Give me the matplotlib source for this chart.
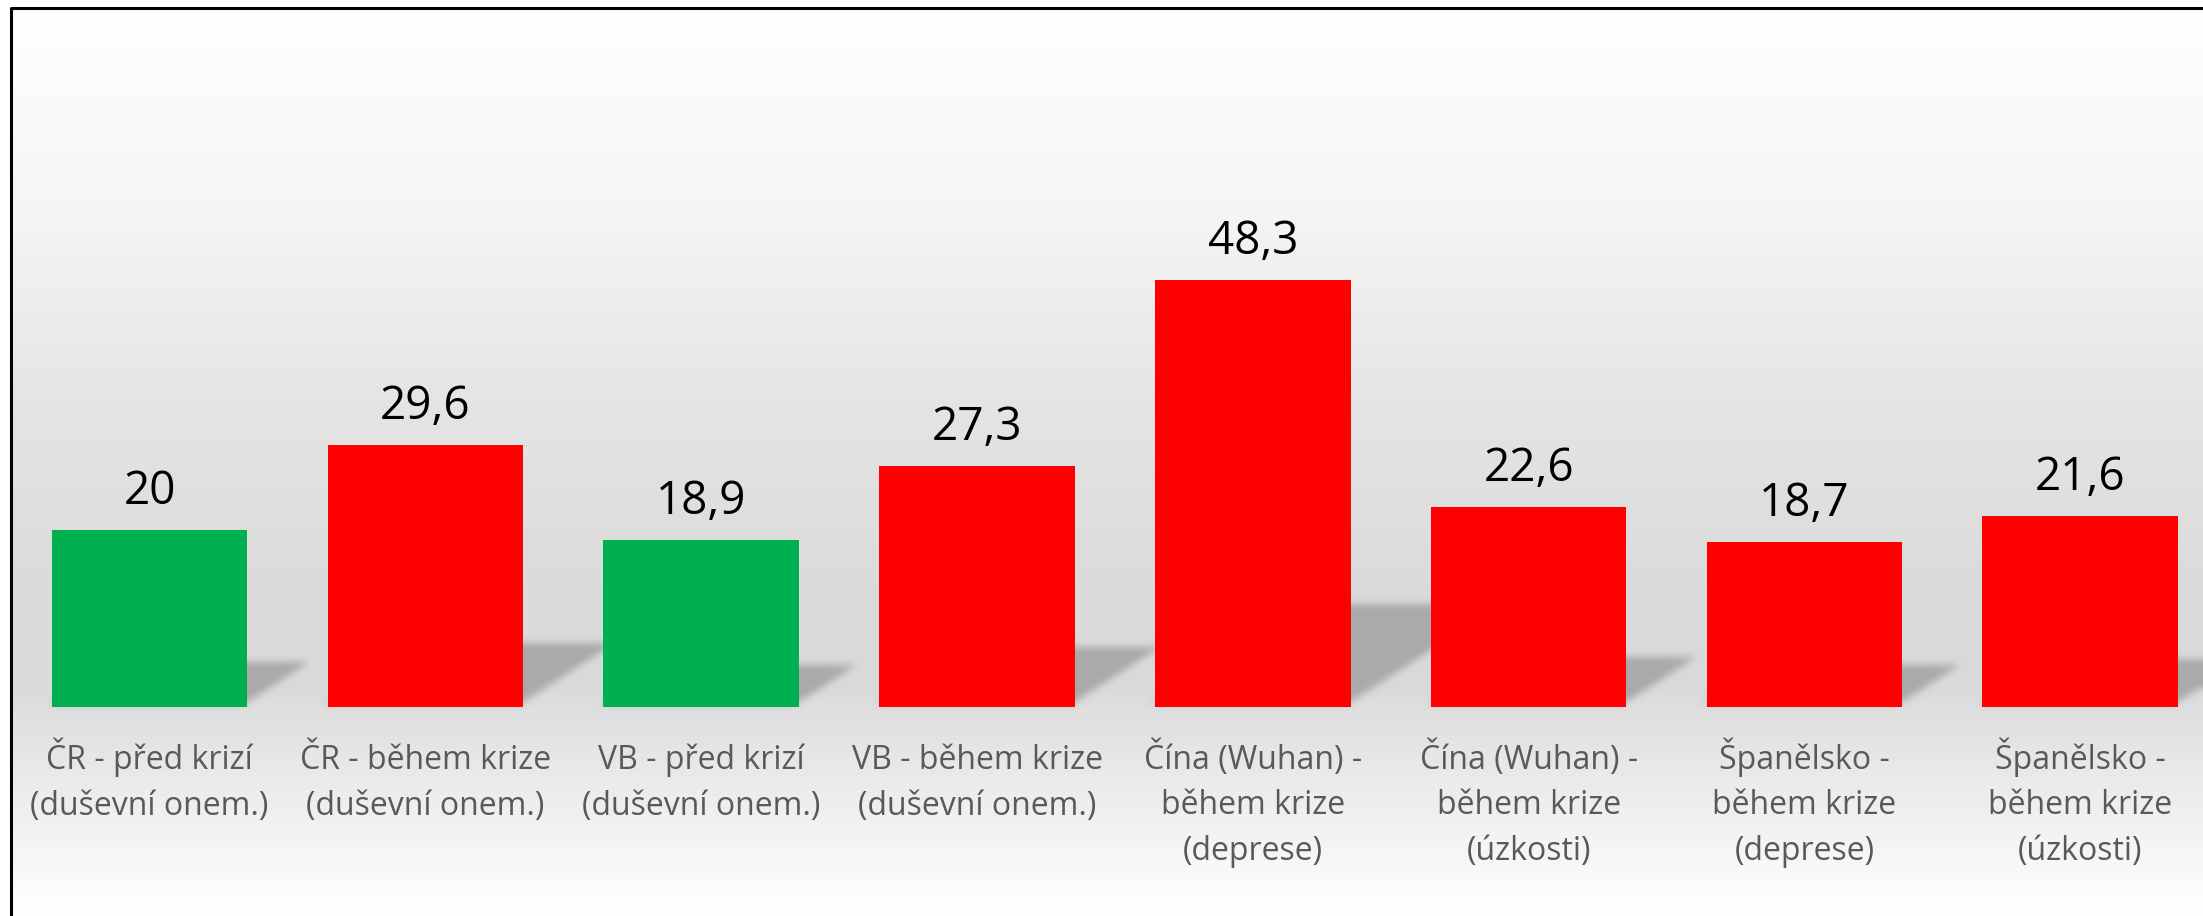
import numpy as np
import matplotlib.pyplot as plt
from matplotlib.lines import Line2D

categories = ["ČR - před krizí\n(duševní onem.)",
              "ČR - během krize\n(duševní onem.)",
              "VB - před krizí\n(duševní onem.)",
              "VB - během krize\n(duševní onem.)",
              "Čína (Wuhan) -\nběhem krize\n(deprese)",
              "Čína (Wuhan) -\nběhem krize\n(úzkosti)",
              "Španělsko -\nběhem krize\n(deprese)",
              "Španělsko -\nběhem krize\n(úzkosti)"]
values = [20, 29.6, 18.9, 27.3, 48.3, 22.6, 18.7, 21.6]
value_labels = ["20", "29,6", "18,9", "27,3", "48,3", "22,6", "18,7", "21,6"]
bar_colors = ["#00B050", "#FF0000", "#00B050", "#FF0000",
              "#FF0000", "#FF0000", "#FF0000", "#FF0000"]

W, H = 2203, 916
fig = plt.figure(figsize=(W / 100, H / 100), dpi=100)
ax = fig.add_axes([0, 0, 1, 1])
ax.set_axis_off()

# scale of the original: one category = 275.8 px, one unit = 8.84 px, baseline on row 707
cat_px, unit_px, x0_px, base_px = 275.8, 8.84, 149.6, 707
ax.set_xlim(-x0_px / cat_px, (W - x0_px) / cat_px)
ax.set_ylim(-(H - base_px) / unit_px, base_px / unit_px)
bar_w = 0.709

# background: vertical grey gradient inside the frame, plus blurred bar shadows
left_px, top_px = 11, 8
cols = np.arange(left_px, W) + 0.5
rows = np.arange(top_px, H) + 0.5
X = ((cols - x0_px) / cat_px)[None, :]
Y = ((base_px - rows) / unit_px)[:, None]

grey = np.interp(rows, [8, 200, 400, 600, 690, 710, 790, 840, 900, 916],
                 [255, 246, 229, 218, 218, 223, 236, 244, 253, 255]) / 255

mask = np.zeros((len(rows), len(cols)))
for i, v in enumerate(values):
    sh = 0.235 * v
    shift = 1.55 * sh * unit_px / cat_px
    t = Y / sh
    inside = (Y >= 0) & (Y <= sh) & (X >= i - bar_w / 2 + t * shift) & (X <= i + bar_w / 2 + t * shift)
    mask = np.maximum(mask, inside.astype(float))


def box_blur(a, r, axis):
    a = np.moveaxis(a, axis, 0)
    p = np.concatenate([np.repeat(a[:1], r, 0), a, np.repeat(a[-1:], r + 1, 0)])
    c = np.cumsum(p, axis=0)
    out = (c[2 * r + 1:] - c[:-2 * r - 1]) / (2 * r + 1)
    return np.moveaxis(out[:a.shape[0]], 0, axis)


for _ in range(3):
    mask = box_blur(mask, 3, 0)
    mask = box_blur(mask, 3, 1)

img = grey[:, None] * (1 - 0.22 * mask)
img = np.dstack([img, img, img])
ax.imshow(img, extent=[(left_px - x0_px) / cat_px, (W - x0_px) / cat_px,
                       -(H - base_px) / unit_px, (base_px - top_px) / unit_px],
          aspect="auto", interpolation="nearest", zorder=0)

ax.bar(range(len(values)), values, width=bar_w, color=bar_colors, zorder=3)

for i, (v, lbl) in enumerate(zip(values, value_labels)):
    ax.annotate(lbl, (i, v), xytext=(0, 18.7), textcoords="offset points",
                ha="center", va="baseline", fontsize=33, family="Open Sans", color="black")

# category labels, one text per line so every line sits on the same baselines
for i, cat in enumerate(categories):
    for k, line in enumerate(cat.split("\n")):
        ax.annotate(line, (i, 0), xytext=(0, -(62 + 45.5 * k) * 0.72),
                    textcoords="offset points", ha="center", va="baseline",
                    fontsize=23, family="Open Sans", color="#595959")

# frame (only left and top edges are visible in the cropped original)
fig.add_artist(Line2D([left_px / W, left_px / W, 1], [0, 1 - top_px / H, 1 - top_px / H],
                      color="black", lw=2.2))

fig.savefig("out.png", dpi=100, facecolor="white")
